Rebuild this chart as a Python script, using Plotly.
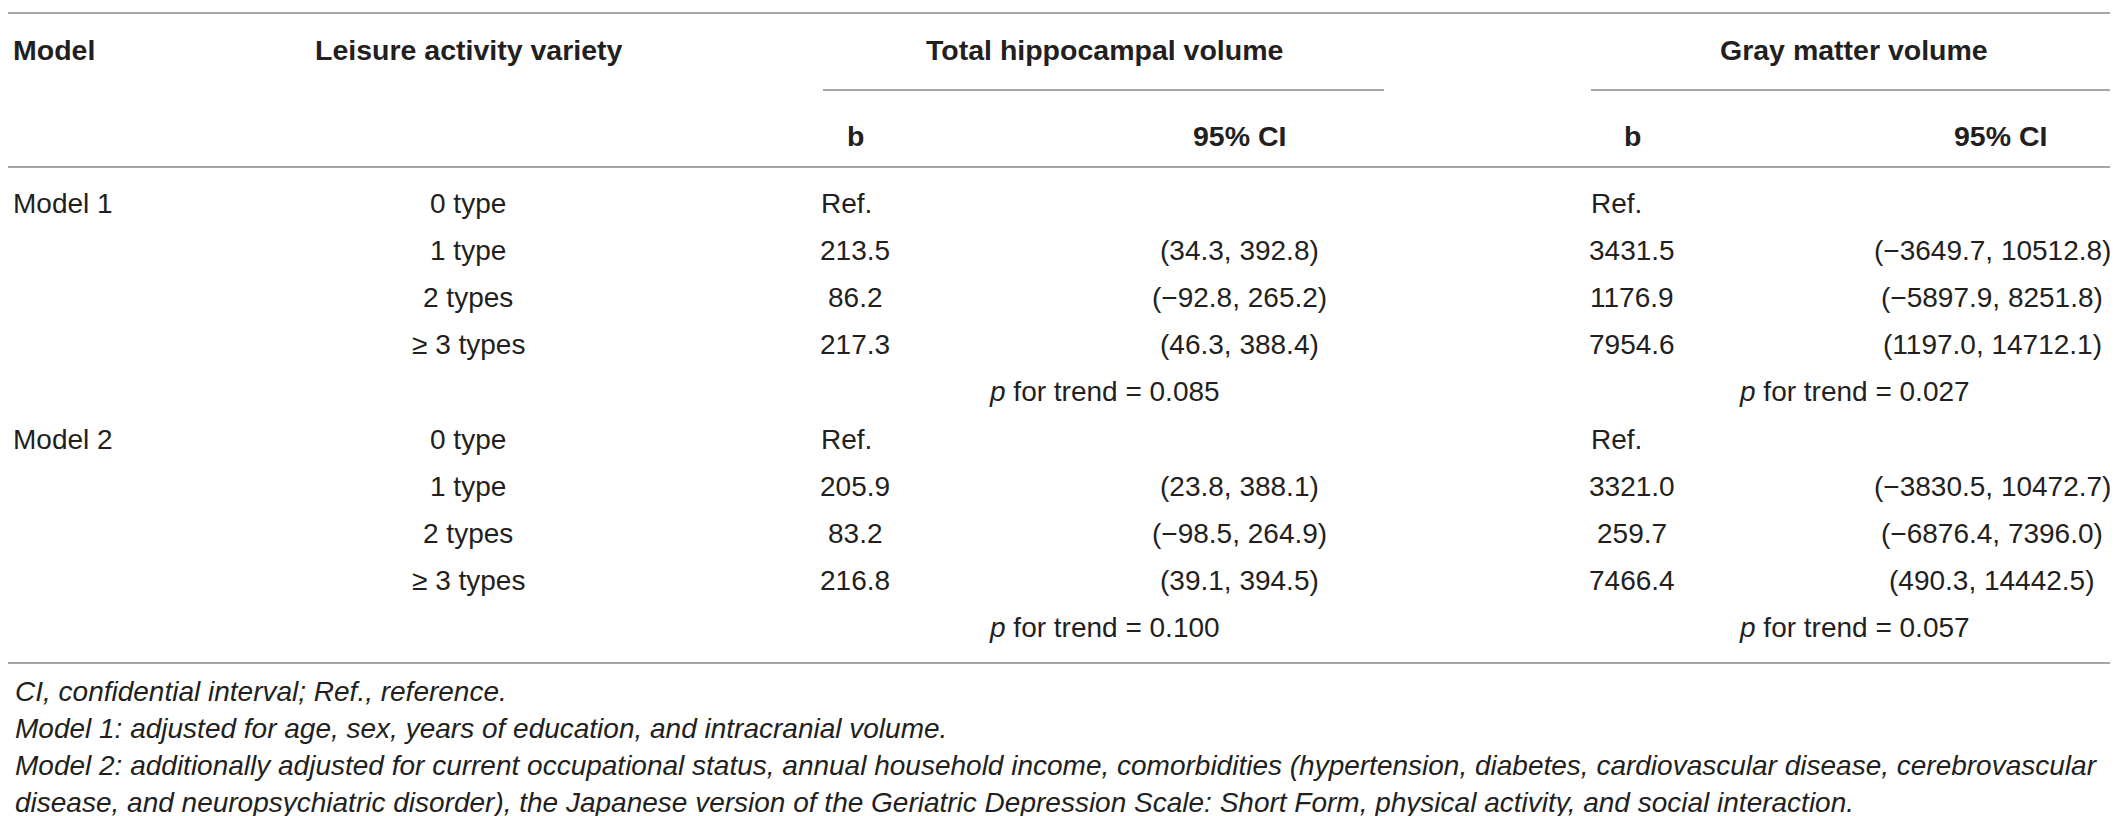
import plotly.graph_objects as go

# table content
models = ["Model 1", "Model 2"]
varieties = ["0 type", "1 type", "2 types", "\u2265 3 types"]

hippo_b = {
    "Model 1": ["Ref.", "213.5", "86.2", "217.3"],
    "Model 2": ["Ref.", "205.9", "83.2", "216.8"],
}
hippo_ci = {
    "Model 1": ["", "(34.3, 392.8)", "(\u221292.8, 265.2)", "(46.3, 388.4)"],
    "Model 2": ["", "(23.8, 388.1)", "(\u221298.5, 264.9)", "(39.1, 394.5)"],
}
hippo_trend = {"Model 1": "0.085", "Model 2": "0.100"}

gray_b = {
    "Model 1": ["Ref.", "3431.5", "1176.9", "7954.6"],
    "Model 2": ["Ref.", "3321.0", "259.7", "7466.4"],
}
gray_ci = {
    "Model 1": ["", "(\u22123649.7, 10512.8)", "(\u22125897.9, 8251.8)", "(1197.0, 14712.1)"],
    "Model 2": ["", "(\u22123830.5, 10472.7)", "(\u22126876.4, 7396.0)", "(490.3, 14442.5)"],
}
gray_trend = {"Model 1": "0.027", "Model 2": "0.057"}

footnotes = [
    "CI, confidential interval; Ref., reference.",
    "Model 1: adjusted for age, sex, years of education, and intracranial volume.",
    "Model 2: additionally adjusted for current occupational status, annual household income, comorbidities (hypertension, diabetes, cardiovascular disease, cerebrovascular",
    "disease, and neuropsychiatric disorder), the Japanese version of the Geriatric Depression Scale: Short Form, physical activity, and social interaction.",
]

W, H = 2118, 816
FONT = "Liberation Sans"
TXT = "#231f20"
LINE = "#8a8a8a"
SIZE = 28
HEAD_SIZE = 28.5
NOTE_SIZE = 28

# column anchors (pixels)
x_model = 4
x_var = 460
x_hb, x_hci, x_hspan = 847, 1231, 1096
x_gb, x_gci, x_gspan = 1624, 1984, 1846

y_head, y_sub, y_first, row_h = 42, 128, 195, 47.2

fig = go.Figure()
fig.add_trace(go.Scatter(x=[0, W], y=[0, H], mode="markers",
                         marker=dict(opacity=0), hoverinfo="skip", showlegend=False))


def txt(x, y, s, anchor="center", bold=False, italic=False, size=SIZE):
    fig.add_annotation(
        x=x, y=y, xref="x", yref="y", text=s, showarrow=False,
        xanchor=anchor, yanchor="middle", borderpad=0,
        font=dict(family=FONT, size=size, color=TXT,
                  weight="bold" if bold else "normal",
                  style="italic" if italic else "normal"),
    )


def hline(x0, x1, y):
    fig.add_shape(type="line", xref="x", yref="y", x0=x0, x1=x1, y0=y, y1=y,
                  line=dict(color=LINE, width=1.6))


# header
txt(x_model, y_head, "Model", "left", bold=True, size=HEAD_SIZE)
txt(x_var, y_head, "Leisure activity variety", bold=True, size=HEAD_SIZE)
txt(x_hspan, y_head, "Total hippocampal volume", bold=True, size=HEAD_SIZE)
txt(x_gspan, y_head, "Gray matter volume", bold=True, size=HEAD_SIZE)
for xb, xc in [(x_hb, x_hci), (x_gb, 1992)]:
    txt(xb, y_sub, "b", bold=True, size=HEAD_SIZE)
    txt(xc, y_sub, "95% CI", bold=True, size=HEAD_SIZE)

hline(0, W, 5)
hline(815, 1376, 82)
hline(1583, W, 82)
hline(0, W, 159)

# body
row = 0
for m in models:
    y0 = y_first + row * row_h
    txt(x_model, y0, m, "left")
    for i, v in enumerate(varieties):
        y = y_first + (row + i) * row_h
        txt(x_var, y, v)
        if hippo_b[m][i] == "Ref.":
            txt(812, y, "Ref.", "left")
            txt(1582, y, "Ref.", "left")
        else:
            txt(x_hb, y, hippo_b[m][i])
            txt(x_gb, y, gray_b[m][i])
        txt(x_hci, y, hippo_ci[m][i])
        txt(x_gci, y, gray_ci[m][i])
    y = y_first + (row + 4) * row_h
    txt(x_hspan, y, "<i>p</i> for trend = " + hippo_trend[m])
    txt(x_gspan, y, "<i>p</i> for trend = " + gray_trend[m])
    row += 5

hline(0, W, 655)

for k, note in enumerate(footnotes):
    txt(6, 683 + k * 37, note, "left", italic=True, size=NOTE_SIZE)

fig.update_layout(
    width=W, height=H,
    margin=dict(l=0, r=0, t=0, b=0),
    paper_bgcolor="white", plot_bgcolor="white",
    xaxis=dict(range=[0, W], visible=False, fixedrange=True),
    yaxis=dict(range=[H, 0], visible=False, fixedrange=True),
    showlegend=False,
)

fig.write_html("out.html", config={"displayModeBar": False})
